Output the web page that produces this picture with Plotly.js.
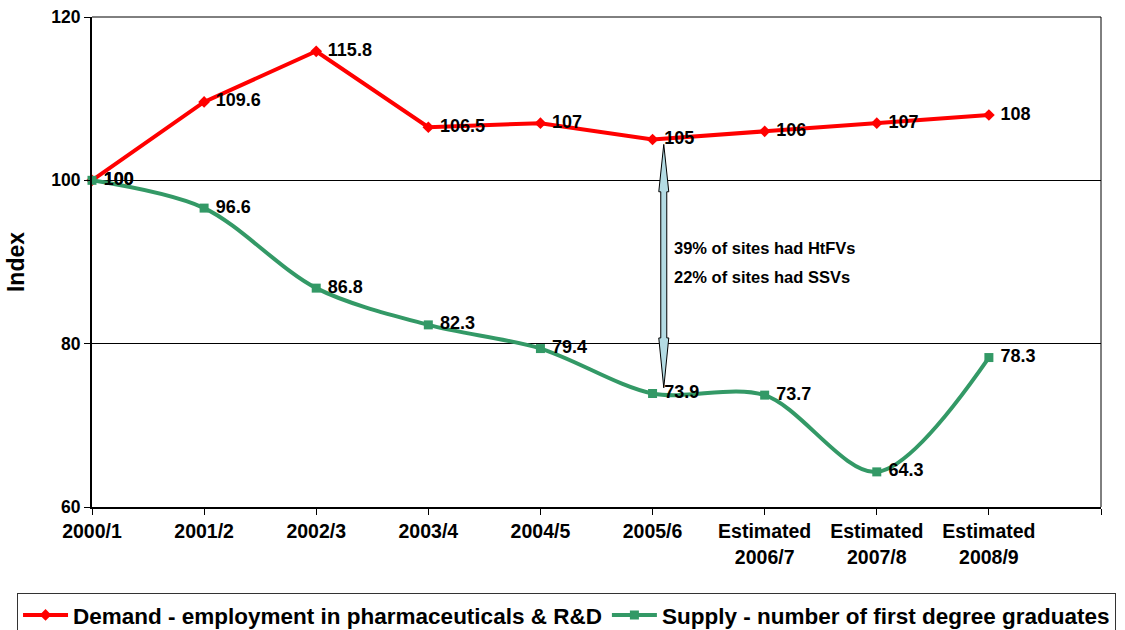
<!DOCTYPE html>
<html>
<head>
<meta charset="utf-8">
<script src="https://cdn.plot.ly/plotly-3.0.1.min.js"></script>
<style>html,body{margin:0;padding:0;background:#fff;}#chart{width:1125px;height:630px;}</style>
</head>
<body>
<div id="chart"></div>
<script>
// ---- data ----
var categories = ["2000/1", "2001/2", "2002/3", "2003/4", "2004/5", "2005/6",
                  "Estimated<br>2006/7", "Estimated<br>2007/8", "Estimated<br>2008/9"];
var demand = [100, 109.6, 115.8, 106.5, 107, 105, 106, 107, 108];
var supply = [100, 96.6, 86.8, 82.3, 79.4, 73.9, 73.7, 64.3, 78.3];
var demandName = "Demand - employment in pharmaceuticals & R&D";
var supplyName = "Supply - number of first degree graduates";
var noteLines = ["39% of sites had HtFVs", "22% of sites had SSVs"];
var yTicks = [60, 80, 100, 120];

var FONT = "Arial, 'Liberation Sans', sans-serif";
var xIdx = categories.map(function (c, i) { return i; });
var tickVals = xIdx.concat([categories.length]);
var tickText = categories.concat([""]);

var traceDemand = {
  x: xIdx, y: demand, name: demandName, type: "scatter",
  mode: "lines+markers+text",
  line: {color: "#FF0000", width: 4},
  marker: {symbol: "diamond", size: 9, color: "#FF0000"},
  text: demand.map(function (v) { return "&nbsp;" + v; }),
  textposition: "middle right",
  textfont: {family: FONT, size: 18, color: "#000", weight: "bold"},
  hoverinfo: "skip", cliponaxis: false
};
var traceSupply = {
  x: xIdx, y: supply, name: supplyName, type: "scatter",
  mode: "lines+markers+text",
  line: {color: "#339966", width: 4, shape: "spline", smoothing: 0.9},
  marker: {symbol: "square", size: 9, color: "#339966"},
  text: supply.map(function (v) { return "&nbsp;" + v; }),
  textposition: "middle right",
  textfont: {family: FONT, size: 18, color: "#000", weight: "bold"},
  hoverinfo: "skip", cliponaxis: false
};

// double-headed arrow (x in pixels around anchor, y in data units)
var arrowX = 5.1;
var arrowTop = 104.4, arrowBot = 74.6, headTop = 98.6, headBot = 80.7;
var arrowPath = "M0," + arrowTop + " L5," + headTop + " L3," + headTop + " L3," + headBot +
  " L5," + headBot + " L0," + arrowBot + " L-5," + headBot + " L-3," + headBot +
  " L-3," + headTop + " L-5," + headTop + " Z";

var layout = {
  width: 1125, height: 630,
  margin: {l: 92, r: 24, t: 17, b: 123, autoexpand: false},
  paper_bgcolor: "#fff", plot_bgcolor: "#fff",
  font: {family: FONT, color: "#000", weight: "bold", size: 18},
  showlegend: true,
  legend: {
    orientation: "h", x: -0.0743, xanchor: "left", y: -0.175, yanchor: "top",
    bordercolor: "#333", borderwidth: 1, bgcolor: "#fff",
    font: {family: FONT, size: 22.5, color: "#000", weight: "bold"},
    itemwidth: 45, tracegroupgap: 0
  },
  xaxis: {
    range: [0, categories.length], tickmode: "array", tickvals: tickVals, ticktext: tickText,
    showgrid: false, zeroline: false, showline: true, linecolor: "#000", linewidth: 2,
    ticks: "outside", ticklen: 6, tickwidth: 1, tickcolor: "#000",
    tickfont: {family: FONT, size: 19.5, color: "#000", weight: "bold"},
    fixedrange: true
  },
  yaxis: {
    range: [60, 120], tickmode: "array", tickvals: yTicks,
    showgrid: true, gridcolor: "#000", gridwidth: 1,
    zeroline: false, showline: true, linecolor: "#000", linewidth: 2,
    ticks: "outside", ticklen: 6, tickwidth: 1, tickcolor: "#000",
    tickfont: {family: FONT, size: 17.5, color: "#000", weight: "bold"},
    title: {text: "Index", font: {family: FONT, size: 23, color: "#000", weight: "bold"}, standoff: 20},
    fixedrange: true
  },
  shapes: [
    {type: "line", xref: "paper", yref: "paper", x0: 0, x1: 1, y0: 1, y1: 1, line: {color: "#000", width: 1}},
    {type: "line", xref: "paper", yref: "paper", x0: 1, x1: 1, y0: 0, y1: 1, line: {color: "#000", width: 1}},
    {type: "path", xref: "x", yref: "y", xsizemode: "pixel", xanchor: arrowX,
     path: arrowPath, fillcolor: "#B4DCE4", line: {color: "#000", width: 1}}
  ],
  annotations: [
    {xref: "x", yref: "y", x: 5.17, y: 91.75, xanchor: "left", yanchor: "middle", showarrow: false,
     text: noteLines[0], font: {family: FONT, size: 16.5, color: "#000", weight: "bold"}},
    {xref: "x", yref: "y", x: 5.17, y: 88.2, xanchor: "left", yanchor: "middle", showarrow: false,
     text: noteLines[1], font: {family: FONT, size: 16.5, color: "#000", weight: "bold"}}
  ]
};

Plotly.newPlot("chart", [traceDemand, traceSupply], layout, {displayModeBar: false, staticPlot: true});
</script>
</body>
</html>
